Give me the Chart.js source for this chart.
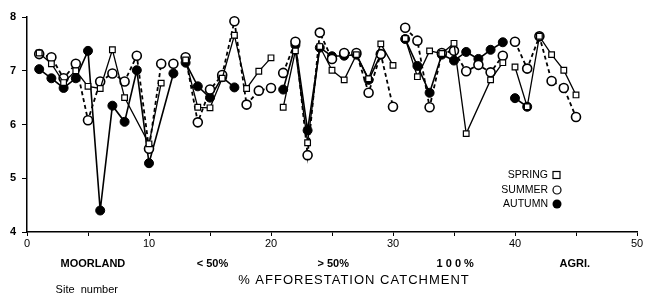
<!DOCTYPE html>
<html>
<head>
<meta charset="utf-8">
<script src="https://cdn.jsdelivr.net/npm/chart.js@4"></script>
<style>
  html, body { margin: 0; padding: 0; background: #fff; }
  #chart { display: block; }
</style>
</head>
<body>
<canvas id="chart" width="645" height="293"></canvas>
<script>
// Datos (pH por sitio y estacion)
const sites = [];
for (let i = 1; i <= 45; i++) sites.push(i);

const spring = [7.33, 7.13, 6.78, 7.0, 6.71, 6.67, 7.39, 6.5, null, 5.64, 6.77, null,
  7.2, 6.32, 6.31, 6.86, 7.66, 6.67, 6.99, 7.24,
  6.32, 7.37, 5.66, 7.45, 7.01, 6.83, 7.3, 6.85, 7.5, 7.1,
  7.6, 6.89, 7.37, 7.32, 7.51, 5.83, null, 6.83, 7.15,
  7.07, 6.33, 7.64, 7.3, 7.01, 6.55];

const summer = [7.31, 7.25, 6.86, 7.13, 6.08, 6.8, 6.95, 6.8, 7.28, 5.55, 7.13, 7.13,
  7.25, 6.04, 6.65, 6.92, 7.92, 6.37, 6.63, 6.68,
  6.96, 7.54, 5.43, 7.71, 7.22, 7.33, 7.33, 6.59, 7.31, 6.33,
  7.8, 7.56, 6.32, 7.33, 7.37, 6.99, 7.11, 6.97, 7.28,
  7.54, 7.04, 7.64, 6.81, 6.68, 6.14];

const autumn = [7.03, 6.86, 6.68, 6.86, 7.37, 4.4, 6.35, 6.05, 7.01, 5.28, null, 6.95,
  7.15, 6.71, 6.5, 6.88, 6.69, null, null, null,
  6.65, 7.48, 5.89, 7.43, 7.27, 7.28, 7.3, 6.83, 7.3, null,
  7.59, 7.09, 6.59, 7.3, 7.19, 7.35, 7.22, 7.39, 7.53,
  6.49, 6.33, null, null, null, null];

// Grupos de afforestacion
const groupStarts = [13, 21, 31, 40];
const groupLabels = ['MOORLAND', '< 50%', '> 50%', '1 0 0 %', 'AGRI.'];
const groupCenters = [5.4, 15.2, 25.1, 35.1, 44.9];

const xTicks = [0, 10, 20, 30, 40, 50];
const yTicks = [4, 5, 6, 7, 8];

function toPoints(values) {
    return sites.map((s, i) => ({ x: s, y: values[i] }));
}

// No dibujar la linea entre grupos distintos
function gapColor(ctx) {
    const a = ctx.p0.parsed.x, b = ctx.p1.parsed.x;
    return groupStarts.some(s => a < s && b >= s) ? 'rgba(0,0,0,0)' : undefined;
}

const FONT = '"Liberation Sans", Arial, sans-serif';

// Textos de abajo y leyenda
const textPlugin = {
    id: 'textos',
    afterDraw(chart) {
        const ctx = chart.ctx;
        const xs = chart.scales.x;
        ctx.save();
        ctx.fillStyle = '#000';
        ctx.textAlign = 'center';
        ctx.textBaseline = 'middle';

        ctx.font = 'bold 11px ' + FONT;
        groupLabels.forEach((lbl, i) => {
            ctx.fillText(lbl, xs.getPixelForValue(groupCenters[i]), 264);
        });

        ctx.font = '13px ' + FONT;
        ctx.letterSpacing = '1px';
        ctx.fillText('% AFFORESTATION CATCHMENT', xs.getPixelForValue(26.8), 280);
        ctx.letterSpacing = '0px';

        ctx.font = '11px ' + FONT;
        ctx.fillText('Site  number', xs.getPixelForValue(4.9), 290);

        // leyenda
        const names = ['SPRING', 'SUMMER', 'AUTUMN'];
        const ys = [175, 190, 204];
        ctx.font = '10.5px ' + FONT;
        ctx.textAlign = 'right';
        names.forEach((n, i) => {
            ctx.fillText(n, 548, ys[i]);
        });
        ctx.lineWidth = 1.2;
        ctx.strokeStyle = '#000';
        ctx.fillStyle = '#fff';
        ctx.fillRect(553, ys[0] - 3.5, 7, 7);
        ctx.strokeRect(553, ys[0] - 3.5, 7, 7);
        ctx.beginPath();
        ctx.arc(557, ys[1], 4, 0, Math.PI * 2);
        ctx.fill();
        ctx.stroke();
        ctx.fillStyle = '#000';
        ctx.beginPath();
        ctx.arc(557, ys[2], 4.5, 0, Math.PI * 2);
        ctx.fill();
        ctx.restore();
    }
};

const ctx = document.getElementById('chart').getContext('2d');
window.phChart = new Chart(ctx, {
    type: 'line',
    data: {
        datasets: [
            {
                label: 'SPRING',
                data: toPoints(spring),
                borderColor: '#000',
                borderWidth: 1.3,
                pointStyle: 'rect',
                pointRadius: 4,
                pointBackgroundColor: '#fff',
                pointBorderColor: '#000',
                pointBorderWidth: 1.2,
                segment: { borderColor: gapColor }
            },
            {
                label: 'SUMMER',
                data: toPoints(summer),
                borderColor: '#000',
                borderWidth: 1.8,
                borderDash: [4, 3],
                pointStyle: 'circle',
                pointRadius: 4.5,
                pointBackgroundColor: '#fff',
                pointBorderColor: '#000',
                pointBorderWidth: 1.6,
                segment: { borderColor: gapColor }
            },
            {
                label: 'AUTUMN',
                data: toPoints(autumn),
                borderColor: '#000',
                borderWidth: 1.6,
                pointStyle: 'circle',
                pointRadius: 4.5,
                pointBackgroundColor: '#000',
                pointBorderColor: '#000',
                pointBorderWidth: 1,
                segment: { borderColor: gapColor }
            }
        ]
    },
    options: {
        responsive: false,
        animation: false,
        spanGaps: true,
        clip: false,
        layout: { padding: { top: 17, right: 8, left: 0, bottom: 0 } },
        plugins: {
            legend: { display: false },
            tooltip: { enabled: false }
        },
        scales: {
            x: {
                type: 'linear',
                min: 0,
                max: 50,
                afterFit: s => { s.height = 61; },
                afterBuildTicks: s => {
                    s.ticks = [];
                    for (let v = 0; v <= 50; v += 5) s.ticks.push({ value: v });
                },
                ticks: {
                    autoSkip: false,
                    maxRotation: 0,
                    padding: 1,
                    color: '#000',
                    font: { family: FONT, size: 11 },
                    callback: v => xTicks.includes(v) ? String(v) : ''
                },
                grid: { display: true, drawOnChartArea: false, tickLength: 4, color: '#000', lineWidth: 1 },
                border: { display: true, color: '#000', width: 1.5 }
            },
            y: {
                min: 4,
                max: 8,
                afterFit: s => { s.width = 27; },
                afterBuildTicks: s => {
                    s.ticks = yTicks.map(v => ({ value: v }));
                },
                ticks: {
                    padding: 6,
                    color: '#000',
                    font: { family: FONT, size: 11, weight: 'bold' }
                },
                grid: { display: true, drawOnChartArea: false, tickLength: 5, color: '#000', lineWidth: 1 },
                border: { display: true, color: '#000', width: 1.5 }
            }
        }
    },
    plugins: [textPlugin]
});
</script>
</body>
</html>
